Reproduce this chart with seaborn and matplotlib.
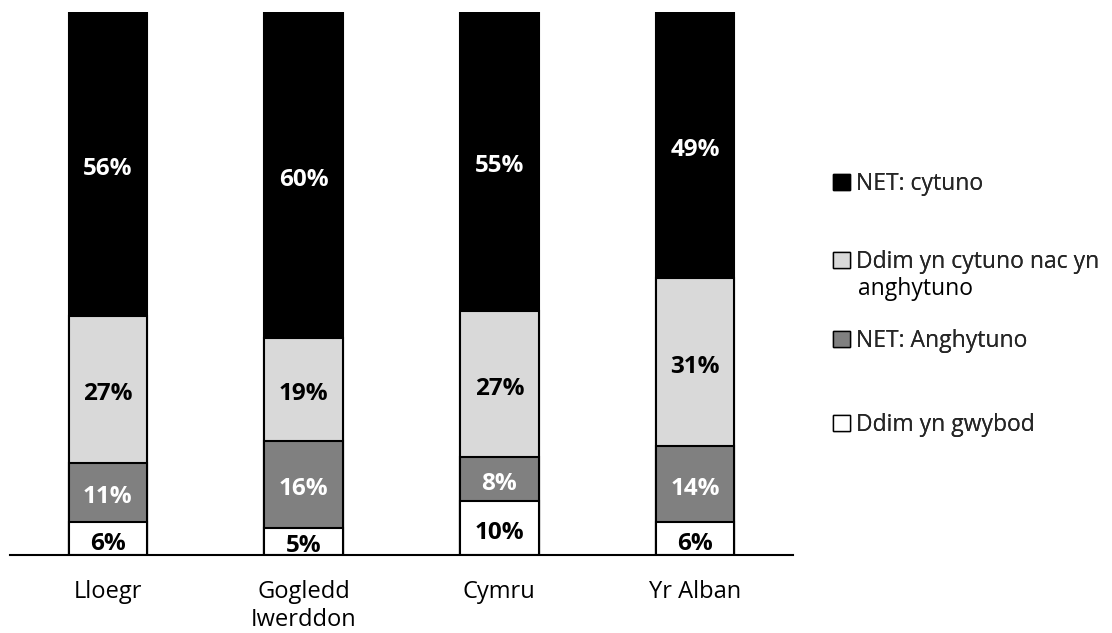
import numpy as np
import pandas as pd
import matplotlib.pyplot as plt
import seaborn as sns
from matplotlib.patches import Patch

# Data (percent)
countries = ["Lloegr", "Gogledd\nIwerddon", "Cymru", "Yr Alban"]
dont_know = [6, 5, 10, 6]
disagree = [11, 16, 8, 14]
neither = [27, 19, 27, 31]
agree = [56, 60, 55, 49]

series_names = ["Ddim yn gwybod", "NET: Anghytuno",
                "Ddim yn cytuno nac yn\nanghytuno", "NET: cytuno"]
series_colors = ["#ffffff", "#808080", "#d9d9d9", "#000000"]
label_colors = ["black", "white", "black", "white"]

df = pd.DataFrame({
    "country": countries,
    "s0": dont_know,
    "s1": disagree,
    "s2": neither,
    "s3": agree,
})
layers = ["s0", "s1", "s2", "s3"]
cum = df[layers].cumsum(axis=1)

sns.set_theme(style="white")
plt.rcParams["font.family"] = ["Open Sans", "DejaVu Sans"]

fig = plt.figure(figsize=(11.12, 6.33), dpi=100)
ax = fig.add_axes([10 / 1112, 1 - 555 / 633, 783 / 1112, 543 / 633])

# stacked bars: draw cumulative totals from the top layer down
for i in reversed(range(4)):
    sns.barplot(x=df["country"], y=cum[layers[i]], color=series_colors[i],
                edgecolor="black", linewidth=1.5, width=0.4, saturation=1,
                ax=ax)

for j in range(len(countries)):
    for i in range(4):
        top = cum.iloc[j, i]
        val = df[layers[i]].iloc[j]
        ax.annotate(f"{val}%", (j, top - val / 2), xytext=(0, -3.5),
                    textcoords="offset points", ha="center", va="center",
                    fontsize=17.5, fontweight="bold", color=label_colors[i])

ax.set_xlim(-0.5, 3.5)
ax.set_ylim(0, 100)
ax.set_xlabel("")
ax.set_ylabel("")
ax.set_yticks([])
for s in ["top", "left", "right"]:
    ax.spines[s].set_visible(False)
ax.spines["bottom"].set_color("black")
ax.spines["bottom"].set_linewidth(1.5)
ax.tick_params(axis="x", length=0, pad=18, labelsize=17, colors="black")

# legend entries, top to bottom, each placed on its own
legend_order = [3, 2, 1, 0]
legend_y = [184, 262, 341, 425]
for i, y in zip(legend_order, legend_y):
    first_line, *rest = series_names[i].split("\n")
    h = Patch(facecolor=series_colors[i], edgecolor="black", linewidth=1)
    leg = fig.legend([h], [first_line], loc="center left",
                     bbox_to_anchor=(833 / 1112, 1 - y / 633), frameon=False,
                     fontsize=16.5, handlelength=0.72, handleheight=0.72,
                     handletextpad=0.3, borderpad=0, borderaxespad=0)
    fig.add_artist(leg)
    for k, line in enumerate(rest):
        fig.text(858 / 1112, 1 - (y + 27 * (k + 1)) / 633, line,
                 ha="left", va="center", fontsize=16.5, color="black")

fig.savefig("out.png", dpi=100, facecolor="white")
